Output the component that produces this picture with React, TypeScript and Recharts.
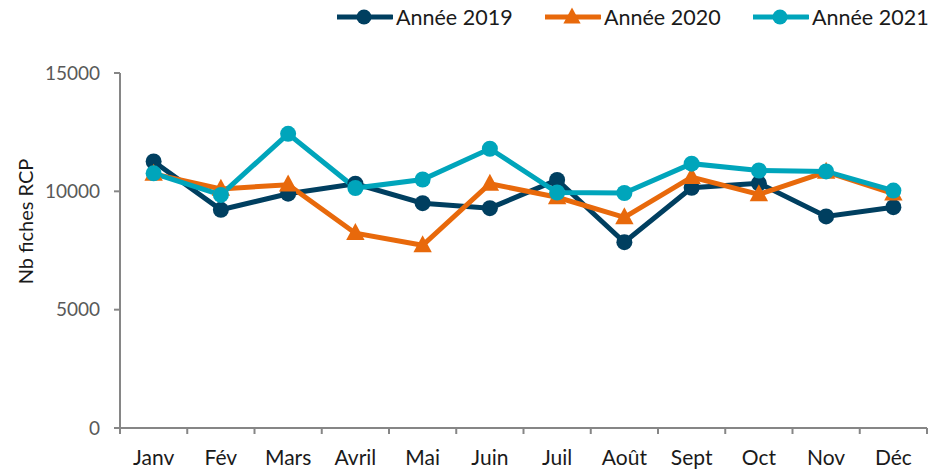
import React from "react";
import { LineChart, Line, XAxis, YAxis, Legend } from "recharts";

const months = ["Janv", "Fév", "Mars", "Avril", "Mai", "Juin", "Juil", "Août", "Sept", "Oct", "Nov", "Déc"];
const annee2019 = [11260, 9220, 9900, 10320, 9500, 9290, 10480, 7850, 10150, 10340, 8940, 9330];
const annee2020 = [10740, 10100, 10280, 8230, 7720, 10320, 9750, 8900, 10600, 9870, 10820, 9900];
const annee2021 = [10760, 9850, 12430, 10140, 10500, 11800, 9950, 9930, 11170, 10880, 10840, 10030];
const yTicks = [0, 5000, 10000, 15000];

const series = [
  { key: "y2019", name: "Année 2019", color: "#003F60", shape: "circle" },
  { key: "y2020", name: "Année 2020", color: "#E8690B", shape: "triangle" },
  { key: "y2021", name: "Année 2021", color: "#00A5BB", shape: "circle" },
];

const data = months.map((m, i) => ({
  x: i + 1,
  month: m,
  y2019: annee2019[i],
  y2020: annee2020[i],
  y2021: annee2021[i],
}));

// ticks at month centres (labels) and at month boundaries (tick marks)
const xTicks: number[] = [];
for (let i = 0; i <= months.length * 2; i++) xTicks.push(0.5 + i * 0.5);

const FONT = "Lato, 'Open Sans', sans-serif";
const AXIS_COLOR = "#868686";
const TICK_SIZE = 6;
const TICK_MARGIN = 16;

function XTick(props: any) {
  const { x, y, payload } = props;
  const v = payload.value;
  if (Math.abs(v - Math.round(v)) > 0.01) {
    const axisY = y - TICK_SIZE - TICK_MARGIN;
    return <line x1={x} x2={x} y1={axisY} y2={axisY + TICK_SIZE} stroke={AXIS_COLOR} strokeWidth={2} />;
  }
  return (
    <text x={x} y={y} dy="0.71em" textAnchor="middle" fontSize={21} fontFamily={FONT} fill="#1a1a1a">
      {months[v - 1]}
    </text>
  );
}

function Marker({ shape, color, cx, cy, r }: any) {
  if (shape === "triangle") {
    const s = r * 1.15;
    return (
      <polygon
        points={`${cx},${cy - s * 1.1} ${cx - s},${cy + s * 0.75} ${cx + s},${cy + s * 0.75}`}
        fill={color}
      />
    );
  }
  return <circle cx={cx} cy={cy} r={r} fill={color} />;
}

function LegendContent() {
  const lefts = [337, 545, 753];
  return (
    <div style={{ position: "relative", height: 36, width: 930 }}>
      {series.map((s, i) => (
        <div
          key={s.key}
          style={{ position: "absolute", left: lefts[i], top: 3, display: "flex", alignItems: "center", height: 28 }}
        >
          <svg width={56} height={28}>
            <line x1={0} x2={55} y1={14} y2={14} stroke={s.color} strokeWidth={5} strokeLinecap="round" />
            <Marker shape={s.shape} color={s.color} cx={27} cy={14} r={7.5} />
          </svg>
          <span style={{ marginLeft: 3, fontSize: 21.5, fontFamily: FONT, color: "#1a1a1a" }}>{s.name}</span>
        </div>
      ))}
    </div>
  );
}

function YLabel({ viewBox }: any) {
  const x = viewBox.x + 25;
  const y = viewBox.y + viewBox.height / 2 - 29;
  return (
    <text
      x={x}
      y={y}
      transform={`rotate(-90, ${x}, ${y})`}
      textAnchor="middle"
      dominantBaseline="central"
      fontSize={20}
      fontFamily={FONT}
      fill="#1a1a1a"
    >
      Nb fiches RCP
    </text>
  );
}

export default function App() {
  return (
    <div style={{ position: "absolute", left: 0, top: 0, width: 930, height: 472, background: "#fff" }}>
      <LineChart width={930} height={472} data={data} margin={{ top: 37, right: 3, bottom: 0, left: 0 }}>
        <Legend verticalAlign="top" content={<LegendContent />} wrapperStyle={{ left: 0, top: 0, width: 930 }} />
        <XAxis
          dataKey="x"
          type="number"
          domain={[0.5, 12.5]}
          ticks={xTicks}
          interval={0}
          height={44}
          tickLine={false}
          tickSize={TICK_SIZE}
          tickMargin={TICK_MARGIN}
          tick={<XTick />}
          axisLine={{ stroke: AXIS_COLOR, strokeWidth: 2 }}
        />
        <YAxis
          domain={[0, 15000]}
          ticks={yTicks}
          width={120}
          tickSize={TICK_SIZE}
          tickMargin={14}
          tick={{ fontSize: 19, fontFamily: FONT, fill: "#595959" }}
          tickLine={{ stroke: AXIS_COLOR, strokeWidth: 2 }}
          axisLine={{ stroke: AXIS_COLOR, strokeWidth: 2 }}
          label={<YLabel />}
        />
        {series.map((s) => (
          <Line
            key={s.key}
            dataKey={s.key}
            name={s.name}
            stroke={s.color}
            strokeWidth={5}
            isAnimationActive={false}
            dot={(p: any) => <Marker key={`${s.key}-${p.index}`} shape={s.shape} color={s.color} cx={p.cx} cy={p.cy} r={8} />}
            activeDot={false}
          />
        ))}
      </LineChart>
    </div>
  );
}
